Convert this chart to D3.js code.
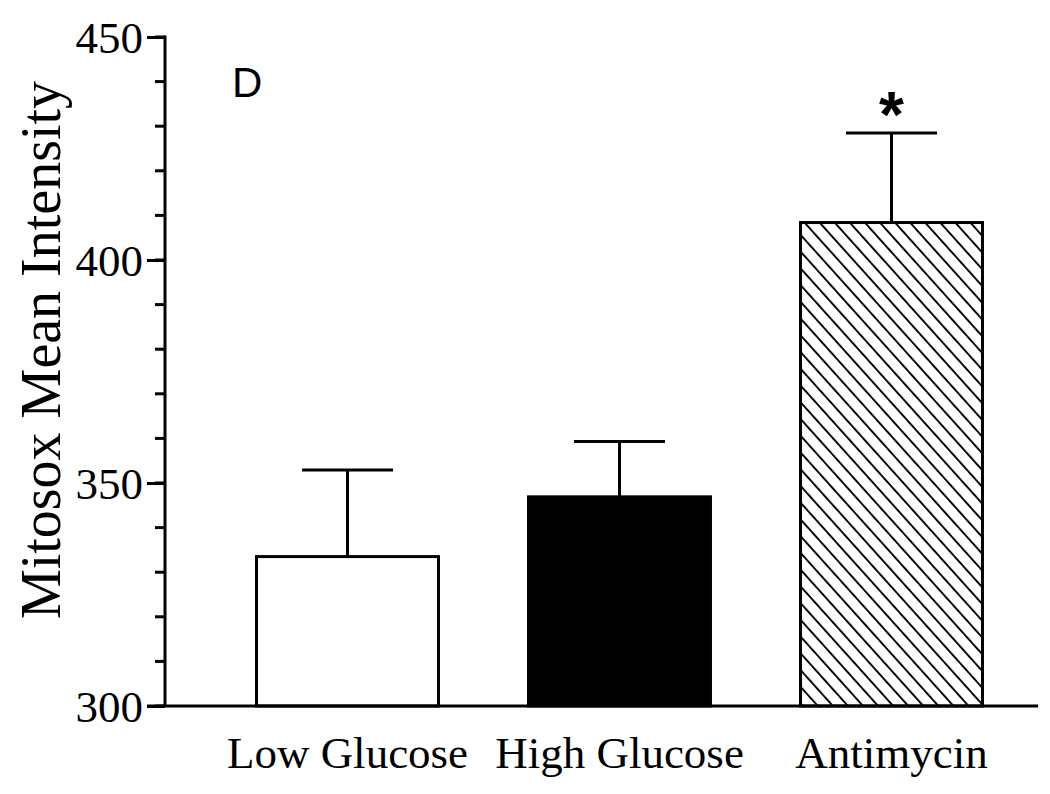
<!DOCTYPE html>
<html>
<head>
<meta charset="utf-8">
<script src="https://cdn.jsdelivr.net/npm/d3@7"></script>
<style>
  html, body { margin: 0; padding: 0; background: #fff; }
  svg { display: block; }
</style>
</head>
<body>
<script>
const categories = ["Low Glucose", "High Glucose", "Antimycin"];
const means = [333.5, 346.9, 408.4];
const errTops = [352.9, 359.3, 428.5];
const fills = ["white", "black", "hatch"];
const majorTicks = [300, 350, 400, 450];
const minorTicks = d3.range(300, 451, 10);
const significant = [false, false, true];

const W = 1050, H = 794;
const svg = d3.select("body").append("svg").attr("width", W).attr("height", H);

const defs = svg.append("defs");
const pat = defs.append("pattern")
  .attr("id", "hatch")
  .attr("patternUnits", "userSpaceOnUse")
  .attr("width", 11.2).attr("height", 11.2)
  .attr("patternTransform", "rotate(-42)");
pat.append("line").attr("x1", 1).attr("y1", 0).attr("x2", 1).attr("y2", 11.2)
  .attr("stroke", "black").attr("stroke-width", 1.9);

const y = d3.scaleLinear().domain([300, 450]).range([706, 37]);
const x = d3.scaleBand().domain(categories).range([211.5, 1027.5])
  .paddingInner(0.331).paddingOuter(0.1655);

const axisX = 165;

// minor ticks
svg.append("g").selectAll("line").data(minorTicks).join("line")
  .attr("x1", axisX - 10).attr("x2", axisX)
  .attr("y1", d => y(d)).attr("y2", d => y(d))
  .attr("stroke", "black").attr("stroke-width", 3);

// major ticks + labels via d3 axis
const yAxis = d3.axisLeft(y).tickValues(majorTicks).tickSize(18).tickPadding(4).tickFormat(d3.format("d"));
const gy = svg.append("g").attr("transform", `translate(${axisX},0)`).call(yAxis);
gy.select(".domain").remove();
gy.selectAll(".tick line").attr("stroke", "black").attr("stroke-width", 3);
gy.selectAll(".tick text")
  .attr("font-family", "'Liberation Serif', 'Times New Roman', serif")
  .attr("font-size", 45).attr("fill", "black").attr("dy", "0.34em");

// bars
svg.append("g").selectAll("rect").data(categories).join("rect")
  .attr("x", d => x(d))
  .attr("width", x.bandwidth())
  .attr("y", (d, i) => y(means[i]))
  .attr("height", (d, i) => y(300) - y(means[i]))
  .attr("fill", (d, i) => fills[i] === "hatch" ? "url(#hatch)" : fills[i])
  .attr("stroke", "black").attr("stroke-width", 3);

// error bars
const eg = svg.append("g");
categories.forEach((c, i) => {
  const cx = x(c) + x.bandwidth() / 2;
  eg.append("line").attr("x1", cx).attr("x2", cx)
    .attr("y1", y(means[i])).attr("y2", y(errTops[i]))
    .attr("stroke", "black").attr("stroke-width", 3);
  eg.append("line").attr("x1", cx - x.bandwidth() / 4).attr("x2", cx + x.bandwidth() / 4)
    .attr("y1", y(errTops[i])).attr("y2", y(errTops[i]))
    .attr("stroke", "black").attr("stroke-width", 3);
  if (significant[i]) {
    eg.append("text").attr("x", cx).attr("y", y(errTops[i]) + 4)
      .attr("text-anchor", "middle")
      .attr("font-family", "'Liberation Sans', Arial, sans-serif")
      .attr("font-weight", "bold").attr("font-size", 64)
      .text("*");
  }
});

// axes lines
svg.append("line").attr("x1", axisX).attr("x2", axisX)
  .attr("y1", y(450) - 1.5).attr("y2", y(300))
  .attr("stroke", "black").attr("stroke-width", 3);
svg.append("line").attr("x1", axisX - 18).attr("x2", 1038)
  .attr("y1", y(300)).attr("y2", y(300))
  .attr("stroke", "black").attr("stroke-width", 3);

// x labels
svg.append("g").selectAll("text").data(categories).join("text")
  .attr("x", d => x(d) + x.bandwidth() / 2)
  .attr("y", 768)
  .attr("text-anchor", "middle")
  .attr("font-family", "'Liberation Serif', 'Times New Roman', serif")
  .attr("font-size", 45)
  .text(d => d);

// y label
svg.append("text")
  .attr("transform", "translate(60,350) rotate(-90)")
  .attr("text-anchor", "middle")
  .attr("font-family", "'Liberation Serif', 'Times New Roman', serif")
  .attr("font-size", 56)
  .text("Mitosox Mean Intensity");

// panel letter
svg.append("text").attr("x", 232).attr("y", 97)
  .attr("font-family", "'Liberation Sans', Arial, sans-serif")
  .attr("font-size", 42)
  .text("D");
</script>
</body>
</html>
